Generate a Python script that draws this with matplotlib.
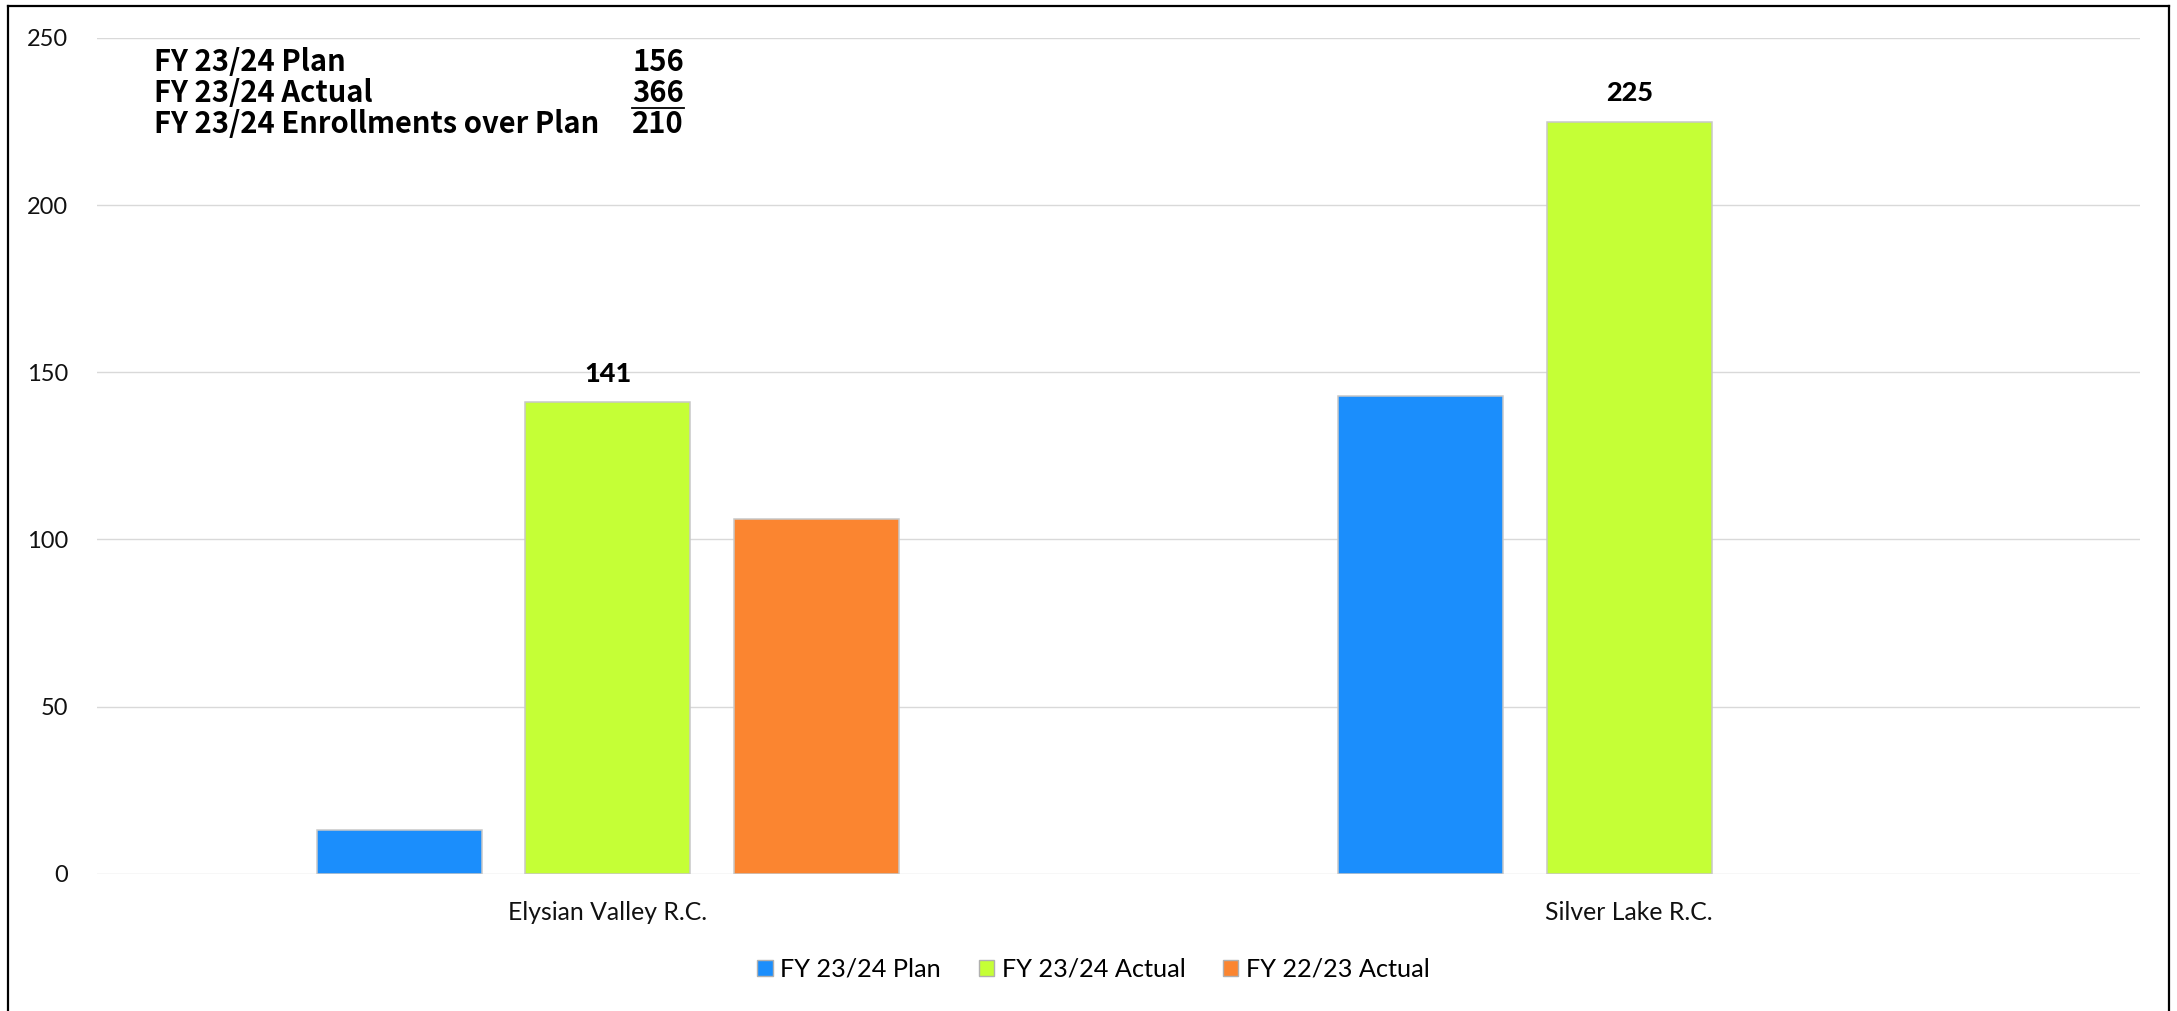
import matplotlib
matplotlib.use("Agg")
import matplotlib.pyplot as plt
from matplotlib.lines import Line2D
from matplotlib.patches import Patch
import numpy as np

categories = ["Elysian Valley R.C.", "Silver Lake R.C."]
series_names = ["FY 23/24 Plan", "FY 23/24 Actual", "FY 22/23 Actual"]
plan_2324 = [13, 143]
actual_2324 = [141, 225]
actual_2223 = [106, 0]
colors = ["#1B8EFC", "#C5FF36", "#FB8530"]
summary_labels = ["FY 23/24 Plan", "FY 23/24 Actual", "FY 23/24 Enrollments over Plan"]
summary_values = [156, 366, 210]
yticks = [0, 50, 100, 150, 200, 250]

plt.rcParams['font.family'] = ['Lato', 'DejaVu Sans']

W, H = 2177, 1011
DPI = 100
fig = plt.figure(figsize=(W / DPI, H / DPI), dpi=DPI)
ax = fig.add_axes([97 / W, 1 - 873.7 / H, (2140 - 97) / W, (873.7 - 38) / H])

x = np.arange(len(categories))
step = 0.204
width = 0.1615
series = [plan_2324, actual_2324, actual_2223]
for i, (vals, c, name) in enumerate(zip(series, colors, series_names)):
    vals = np.array(vals, dtype=float)
    mask = vals > 0
    ax.bar(x[mask] + (i - 1) * step, vals[mask], width, color=c,
           edgecolor="#c8c8c8", linewidth=1.1, zorder=3)
    if i == 1:
        for xi, v in zip(x[mask] + (i - 1) * step, vals[mask]):
            ax.annotate(f"{int(v)}", (xi, v), xytext=(0, 14.9), textcoords='offset points',
                        ha='center', va='baseline', fontsize=19.5, fontweight='black',
                        color='black')

ax.set_xlim(-0.5, 1.5)
ax.set_ylim(0, 250)
ax.set_yticks(yticks)
ax.set_xticks(x)
ax.set_xticklabels(categories)
ax.set_axisbelow(True)
ax.yaxis.grid(True, color='#d9d9d9', linewidth=1.0)
for s in ax.spines.values():
    s.set_visible(False)
ax.tick_params(axis='y', length=0, pad=21, labelsize=17, labelcolor='#111111')
ax.tick_params(axis='x', length=0, pad=20, labelsize=17.8, labelcolor='#111111')

handles = [Patch(facecolor=c, edgecolor='#b0b0b0', linewidth=1.0, label=n)
           for c, n in zip(colors, series_names)]
fig.legend(handles=handles, loc='center', bbox_to_anchor=(0.5023, 1 - 969 / H),
           bbox_transform=fig.transFigure, ncol=3, frameon=False,
           handlelength=0.6, handleheight=0.6, handletextpad=0.3,
           columnspacing=1.5, fontsize=18.2)

# summary text
baselines = [71, 102, 133]
for lab, val, b in zip(summary_labels, summary_values, baselines):
    fig.text(154 / W, 1 - b / H, lab, va='baseline', ha='left', fontsize=21,
             fontweight='bold', family=['Noto Sans CJK JP', 'DejaVu Sans'])
    fig.text(684 / W, 1 - b / H, str(val), va='baseline', ha='right', fontsize=21,
             fontweight='bold', family=['Noto Sans CJK JP', 'DejaVu Sans'])
fig.add_artist(Line2D([632 / W, 684 / W], [1 - 107.5 / H] * 2, color='black', lw=1.3))

# border
lw = 1.6
fig.add_artist(Line2D([8 / W, 8 / W], [0, 1 - 6 / H], color='black', lw=lw))
fig.add_artist(Line2D([8 / W, 2169 / W], [1 - 6 / H] * 2, color='black', lw=lw))
fig.add_artist(Line2D([2169 / W, 2169 / W], [0, 1 - 6 / H], color='black', lw=lw))

fig.savefig("out.png", dpi=DPI)
